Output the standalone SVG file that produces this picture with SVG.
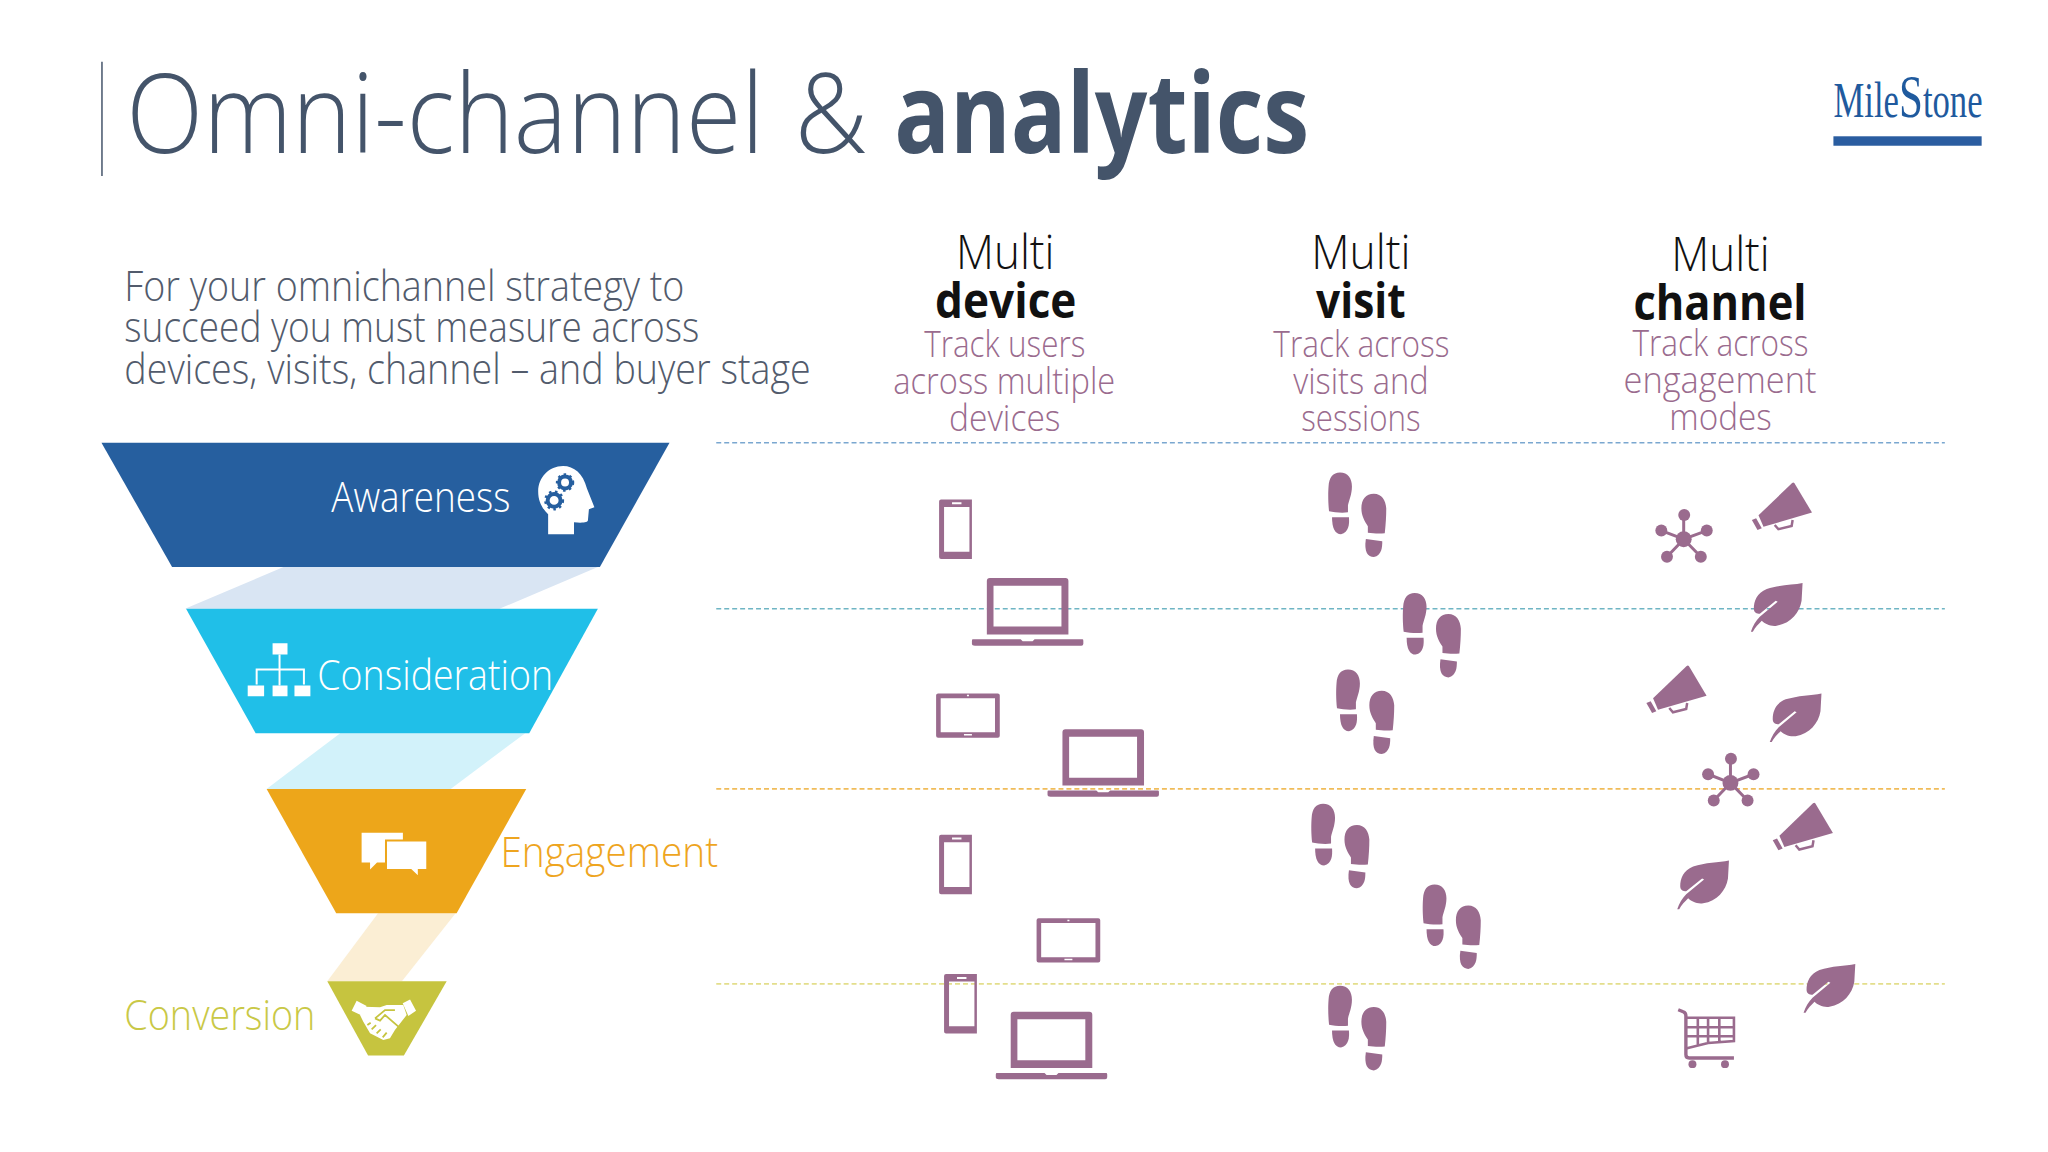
<svg xmlns="http://www.w3.org/2000/svg" xmlns:xlink="http://www.w3.org/1999/xlink" width="2048" height="1152" viewBox="0 0 2048 1152">
<style>
text{font-family:"Open Sans","Noto Sans","Liberation Sans",sans-serif;font-weight:300}
.b{font-weight:700}
.title{font-size:112px;fill:#44546a}
.intro{font-size:42px;fill:#525b6c}
.hd{font-size:48px;fill:#111}
.sub{font-size:37px;fill:#9a6b8e}
.fn{font-size:42px}
.ic{fill:#9a6b8e}
.dash{stroke-width:1.6;stroke-dasharray:5 3;fill:none}
</style>
<defs>
<path id="phone" fill-rule="evenodd" class="ic" d="M2 0H33V60H2Q0 60 0 58V2Q0 0 2 0ZM5 7.700V52.700H30.500V7.700ZM13 3V5H22.500V3Z"/>
<path id="laptop" fill-rule="evenodd" class="ic" d="M18 0H94Q97 0 97 3V56.700H15V3Q15 0 18 0ZM21.700 7.700V48.700H90V7.700ZM1 61.700H49L51 63.500H61L63 61.700H111Q112 61.700 112 63V66Q112 68 110 68H3Q0 68 0 66V63Q0 61.700 1 61.700Z"/>
<path id="tablet" fill-rule="evenodd" class="ic" d="M2 0H62Q64 0 64 2V42.500Q64 44.500 62 44.500H2Q0 44.500 0 42.500V2Q0 0 2 0ZM4.600 4.800V39.200H59.200V4.800ZM31 1.500V3H33V1.500ZM28 40.800V42.300H36V40.800Z"/>
<g id="steps" class="ic">
<path d="M12 0C20 0 24 6 24 14C24 22 21 28 20 33L20 40C14 41 6 40 1 39C0 30 0 20 .5 14C1 5 5 0 12 0Z"/>
<path d="M4 45L21 45C21.500 52 21 60 13 62C7 62 4 56 4 45Z"/>
<path d="M46 21.300C54 21.300 58 28 58.500 36C58.500 44 58 52 57 61C50 61.500 45 61 40 60.500L40 54C37 49 33.500 44 33.500 36C33.500 27 38 21.300 46 21.300Z"/>
<path d="M38 66.800L54.500 69C54.500 75 54 83 46 85C40 85 36 80 38 66.800Z"/>
</g>
<g id="mega" class="ic">
<path d="M40.500 .5Q41.700 -.5 42.700 .5L60.500 30.300L11.700 44.500L6.700 33Z"/>
<path d="M0 37.700L4.300 36L10 46L5.700 47.700Z"/>
<path d="M23 42.700L26.700 47L40 43.700L41 37.700" fill="none" stroke="#9a6b8e" stroke-width="2.500"/>
</g>
<g id="hub" class="ic">
<path d="M28.500 30V6M28.500 30L6 21.300M28.500 30L51.700 21.300M28.500 30L11.700 47.700M28.500 30L45.700 47.700" stroke="#9a6b8e" stroke-width="3" fill="none"/>
<circle cx="28.500" cy="30" r="8"/><circle cx="29" cy="5.700" r="6"/><circle cx="6" cy="21.300" r="6"/><circle cx="51.700" cy="21.300" r="6"/><circle cx="11.700" cy="47.700" r="6"/><circle cx="45.700" cy="47.700" r="6"/>
</g>
<path id="leaf" class="ic" d="M52 0L51 18C49 30 40 41 26 43C20 44 14 41 11 38C8 41 4 45 2 49L0 49C2 43 5 38 9 34L27 19L25 18L9 31C6 31 3 30 3 26C3 18 6 10 16 6C28 2 42 2 52 0Z"/>
<g id="cart">
<path d="M0 1L5 3Q7.700 4 7.700 7V46Q7.700 49.500 11 49.500H56" stroke="#9a6b8e" stroke-width="3.400" fill="none"/>
<path d="M7.700 9H56V32.500L30 34.500L7.700 40M7.700 18.700H56M7.700 27.700H56M19.700 9V37M30 9V34.500M41.300 9V33.500" stroke="#9a6b8e" stroke-width="2.600" fill="none"/>
<circle class="ic" cx="14.300" cy="55.700" r="4"/><circle class="ic" cx="47" cy="55.700" r="4"/>
</g>
</defs>
<rect width="2048" height="1152" fill="#fff"/>
<g transform="scale(.9948)">

<g id="title">
<path d="M102.500 62V177" stroke="#44546a" stroke-width="1.500"/>
<text class="title" x="127" y="154" textLength="641" lengthAdjust="spacingAndGlyphs">Omni-channel</text>
<text class="title" x="799" y="154" textLength="73" lengthAdjust="spacingAndGlyphs">&amp;</text>
<text class="title b" x="899" y="154" textLength="417" lengthAdjust="spacingAndGlyphs">analytics</text>
</g>

<g id="logo">
<text x="1843" y="117.500" font-size="50" textLength="150" lengthAdjust="spacingAndGlyphs" fill="#1f5a9e" style="font-family:'Liberation Serif',serif;font-weight:400">Mile<tspan font-size="62">S</tspan>tone</text>
<rect x="1843" y="137" width="149" height="9.500" fill="#2a5da0"/>
</g>

<g id="intro">
<text class="intro" x="125" y="303" textLength="563" lengthAdjust="spacingAndGlyphs">For your omnichannel strategy to</text>
<text class="intro" x="125" y="344" textLength="578" lengthAdjust="spacingAndGlyphs">succeed you must measure across</text>
<text class="intro" x="125" y="386" textLength="690" lengthAdjust="spacingAndGlyphs">devices, visits, channel – and buyer stage</text>
</g>

<g id="col-device">
<text class="hd" x="961" y="270" textLength="99" lengthAdjust="spacingAndGlyphs">Multi</text>
<text class="hd b" x="940" y="320" textLength="142" lengthAdjust="spacingAndGlyphs">device</text>
<text class="sub" x="929" y="359" textLength="162" lengthAdjust="spacingAndGlyphs">Track users</text>
<text class="sub" x="898" y="396" textLength="223" lengthAdjust="spacingAndGlyphs">across multiple</text>
<text class="sub" x="954" y="433" textLength="112" lengthAdjust="spacingAndGlyphs">devices</text>
</g>
<g id="col-visit">
<text class="hd" x="1318" y="270" textLength="100" lengthAdjust="spacingAndGlyphs">Multi</text>
<text class="hd b" x="1323" y="320" textLength="90" lengthAdjust="spacingAndGlyphs">visit</text>
<text class="sub" x="1280" y="359" textLength="177" lengthAdjust="spacingAndGlyphs">Track across</text>
<text class="sub" x="1300" y="396" textLength="136" lengthAdjust="spacingAndGlyphs">visits and</text>
<text class="sub" x="1308" y="433" textLength="120" lengthAdjust="spacingAndGlyphs">sessions</text>
</g>
<g id="col-channel">
<text class="hd" x="1680" y="272" textLength="99" lengthAdjust="spacingAndGlyphs">Multi</text>
<text class="hd b" x="1642" y="322" textLength="174" lengthAdjust="spacingAndGlyphs">channel</text>
<text class="sub" x="1641" y="358" textLength="177" lengthAdjust="spacingAndGlyphs">Track across</text>
<text class="sub" x="1632" y="395" textLength="194" lengthAdjust="spacingAndGlyphs">engagement</text>
<text class="sub" x="1678" y="432" textLength="103" lengthAdjust="spacingAndGlyphs">modes</text>
</g>

<g id="connectors">
<polygon points="285,570 601,570 502,612 186,612" fill="#d9e5f3"/>
<polygon points="342,737 528,737 453,793 268,793" fill="#d2f2fa"/>
<polygon points="380,918 458,918 404,986.500 329,986.500" fill="#fbeed4"/>
<path class="dash" stroke="#7aa7d0" d="M720 445H1955"/>
<path class="dash" stroke="#6fb5c4" d="M720 612H1955"/>
<path class="dash" stroke="#f0bc5a" d="M720 793H1955"/>
<path class="dash" stroke="#e3de8c" d="M720 989H1955"/>
</g>

<g id="awareness">
<polygon points="102,445 673,445 603,570 173,570" fill="#265f9f"/>
<text class="fn" x="333" y="515" textLength="180" lengthAdjust="spacingAndGlyphs" fill="#fff">Awareness</text>
<path fill="#fff" d="M566 468.500C577 468.500 586 476 590 491L597.500 510L592 512L591 523C591 525 586 526 577 525L577 537L551 537L551 517C545 511 541 504 541 494C541 480 552 468.500 566 468.500Z"/>
<circle cx="568" cy="485" r="6" fill="none" stroke="#265f9f" stroke-width="4"/>
<circle cx="568" cy="485" r="8" fill="none" stroke="#265f9f" stroke-width="2.500" stroke-dasharray="2.500 3.500"/>
<circle cx="557" cy="503" r="6.500" fill="none" stroke="#265f9f" stroke-width="4"/>
<circle cx="557" cy="503" r="8.800" fill="none" stroke="#265f9f" stroke-width="2.500" stroke-dasharray="2.500 3.500"/>
</g>

<g id="consideration">
<polygon points="187,612 601,612 532,737 257,737" fill="#20bfe8"/>
<text class="fn" x="319" y="694" textLength="237" lengthAdjust="spacingAndGlyphs" fill="#fff">Consideration</text>
<path fill="#fff" d="M274 646.500H289V658H274ZM249 689H265.500V700H249ZM274 689H289V700H274ZM296 689H312V700H296Z"/>
<path d="M281 658V689M258 688V673H305.500V688" stroke="#fff" stroke-width="2" fill="none"/>
</g>

<g id="engagement">
<polygon points="268,793 529,793 459,918 338,918" fill="#eda61a"/>
<text class="fn" x="503" y="872" textLength="219" lengthAdjust="spacingAndGlyphs" fill="#eea51f">Engagement</text>
<path fill="#fff" d="M363.500 837H405V867H379L372 874V867H363.500Z"/>
<path fill="#fff" stroke="#eda61a" stroke-width="2" d="M388 845H429.500V874.500H421V882L413 874.500H388Z"/>
</g>

<g id="conversion">
<polygon points="329,986.500 449,986.500 406,1061 370,1061" fill="#c6c43f"/>
<text class="fn" x="125" y="1035.500" textLength="192" lengthAdjust="spacingAndGlyphs" fill="#c9c846">Conversion</text>
<path fill="#fff" d="M353.500 1016L358.500 1005.900L368.600 1011.300L362.600 1020.300ZM404.800 1008.600L412.200 1004.600L418.200 1016L410.500 1021.300Z"/>
<path fill="#fff" d="M365.900 1012L382 1012.600L388.700 1010.300L405.400 1010.300L408.800 1020.300L397 1035.400L392 1043.800L385.300 1045.400L372 1038.700L365.200 1027L361.900 1020.300Z"/>
<path d="M377 1023.700L387 1015.300H397M377 1023.700L382 1026L387 1020.300L401.400 1032.700M369.300 1030.400L372.600 1028M373.600 1034.700L378 1030.400M378.600 1038.700L382.700 1034.700M384.700 1042.800L388.700 1038" stroke="#c6c43f" stroke-width="1.800" fill="none"/>
</g>

<g id="devices">
<use xlink:href="#phone" x="944" y="502"/>
<use xlink:href="#laptop" x="977" y="581"/>
<use xlink:href="#tablet" x="941" y="697"/>
<use xlink:href="#laptop" x="1053" y="733"/>
<use xlink:href="#phone" x="944" y="839"/>
<use xlink:href="#tablet" x="1042" y="923"/>
<use xlink:href="#phone" x="949" y="979"/>
<use xlink:href="#laptop" x="1001" y="1017"/>
</g>
<g id="visits">
<use xlink:href="#steps" x="1335" y="475"/>
<use xlink:href="#steps" x="1410" y="596"/>
<use xlink:href="#steps" x="1343" y="673"/>
<use xlink:href="#steps" x="1318" y="808"/>
<use xlink:href="#steps" x="1430" y="889"/>
<use xlink:href="#steps" x="1335" y="991"/>
</g>
<g id="channels">
<use xlink:href="#hub" x="1664" y="512"/>
<use xlink:href="#mega" x="1761" y="485"/>
<use xlink:href="#leaf" x="1760" y="586"/>
<use xlink:href="#mega" x="1655" y="669"/>
<use xlink:href="#leaf" x="1779" y="697"/>
<use xlink:href="#hub" x="1711" y="757"/>
<use xlink:href="#mega" x="1782" y="807"/>
<use xlink:href="#leaf" x="1686" y="865"/>
<use xlink:href="#leaf" x="1813" y="969"/>
<use xlink:href="#cart" x="1687" y="1014"/>
</g>
</g>
</svg>
